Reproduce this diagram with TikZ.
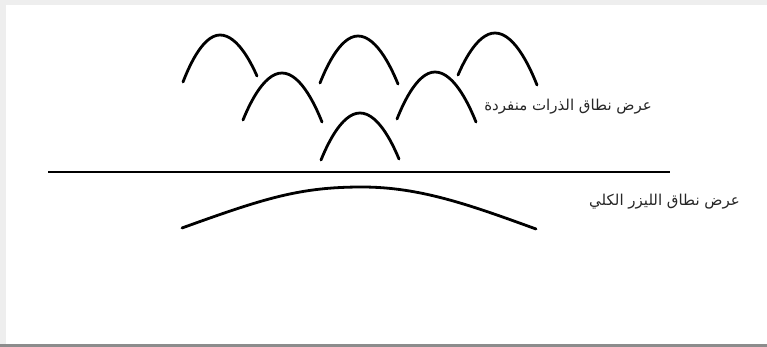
\documentclass[tikz,border=0pt]{standalone}
\usepackage{fontspec}
\newfontfamily\arabicfont[Script=Arabic]{DejaVu Sans}
\TeXXeTstate=1
\definecolor{framegray}{HTML}{EEEEEE}
\definecolor{edgegray}{HTML}{8C8C8C}

\begin{document}
\begin{tikzpicture}[
  x=1pt, y=-1pt,
  arch/.style={line width=2.8pt, line cap=round},
  label/.style={font=\arabicfont\fontsize{15}{18}\selectfont, inner sep=0pt, text=black!85}
]
\useasboundingbox (0,0) rectangle (767,347);
% light frame of the scan
\fill[framegray] (0,0) rectangle (767,5);
\fill[framegray] (0,0) rectangle (6,347);
\fill[edgegray] (0,344) rectangle (767,347);
% single-atom lines
\draw[arch] (183,82) parabola bend (220,35) (257,76);
\draw[arch] (320,83) parabola bend (358,36) (398,84);
\draw[arch] (458,75) parabola bend (495,33) (537,85);
\draw[arch] (243,120) parabola bend (282,73) (322,122);
\draw[arch] (397,119) parabola bend (435,72) (476,122);
\draw[arch] (321,160) parabola bend (360,113) (399,159);
% axis
\draw[line width=2.4pt] (48,172) -- (670,172);
% total laser line
\draw[arch] (182,228) .. controls (265,198) and (300,187) .. (362,187)
  .. controls (420,187) and (470,205) .. (536,229);
\node[label, anchor=east] (atoms) at (652,107) {\beginR عرض نطاق الذرات منفردة\endR};
\node[label, anchor=east] (laser) at (740,202) {\beginR عرض نطاق الليزر الكلي\endR};
\end{tikzpicture}
\end{document}
